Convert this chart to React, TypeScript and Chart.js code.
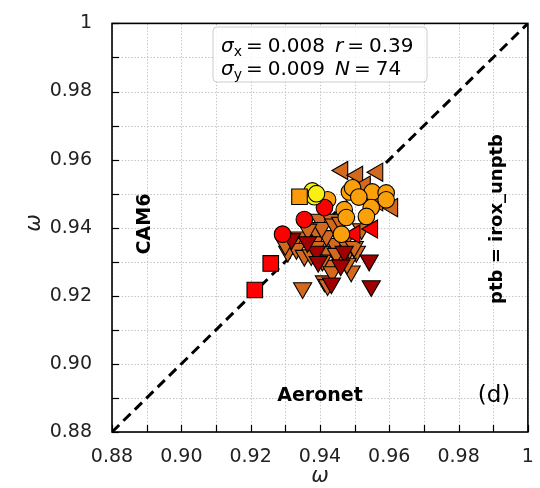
import React, { useEffect, useRef } from 'react';
import { Chart, registerables } from 'chart.js';
Chart.register(...registerables);

// ---- data (x = Aeronet, y = CAM6) ----
const redSquares: [number, number][] = [[0.9212, 0.9217], [0.9258, 0.9295]];
const orangeSquares: [number, number][] = [[0.9341, 0.9491]];
const yellowCircles: [number, number][] = [[0.9378, 0.9508], [0.9384, 0.9491], [0.939, 0.95]];
const redCircles: [number, number][] = [[0.9413, 0.9459], [0.9355, 0.9424], [0.9292, 0.9381]];
const orangeCircles: [number, number][] = [
  [0.9422, 0.9482], [0.9485, 0.9505], [0.9494, 0.9517], [0.9551, 0.9505], [0.9591, 0.9502],
  [0.9591, 0.9482], [0.947, 0.9453], [0.9476, 0.943], [0.9548, 0.9459], [0.9534, 0.9433],
  [0.9462, 0.9381], [0.9512, 0.949],
];
const redTriangles: [number, number][] = [[0.9551, 0.9396], [0.95, 0.9381]];
const leftTriangles: [number, number][] = [
  [0.9465, 0.9568], [0.9508, 0.9554], [0.9566, 0.9563], [0.9522, 0.9488], [0.9609, 0.9459],
  [0.9566, 0.9476], [0.953, 0.9525],
];
const darkRedDown: [number, number][] = [
  [0.9318, 0.9367], [0.939, 0.933], [0.947, 0.933], [0.9433, 0.9237], [0.9542, 0.9304],
  [0.9548, 0.9229], [0.9364, 0.9358], [0.946, 0.929], [0.9395, 0.93],
];
const brownDown: [number, number][] = [
  [0.9399, 0.9424], [0.9433, 0.9424], [0.9341, 0.9372], [0.939, 0.9387], [0.9384, 0.9358],
  [0.9321, 0.9353], [0.9307, 0.933], [0.9332, 0.9338], [0.9355, 0.9318], [0.9419, 0.933],
  [0.945, 0.933], [0.9427, 0.9289], [0.9485, 0.9338], [0.9505, 0.933], [0.949, 0.9272],
  [0.9478, 0.9295], [0.9456, 0.9304], [0.9407, 0.9304], [0.935, 0.9223], [0.9413, 0.9243],
  [0.9442, 0.9353], [0.947, 0.9361], [0.939, 0.9344], [0.9419, 0.9376], [0.952, 0.9396],
  [0.9499, 0.9344], [0.9447, 0.9324], [0.9422, 0.9232], [0.9405, 0.94], [0.944, 0.941],
  [0.9365, 0.9395], [0.946, 0.9415], [0.9375, 0.932], [0.9435, 0.927], [0.93, 0.935],
];
const oneToOne: [number, number][] = [[0.88, 0.88], [1.0, 1.0]];
const axisMin = 0.88;
const axisMax = 1.0;
const statsLine1 = { sym: 'σ', sub: 'x', val: '0.008', sym2: 'r', val2: '0.39' };
const statsLine2 = { sym: 'σ', sub: 'y', val: '0.009', sym2: 'N', val2: '74' };

const toPts = (a: [number, number][]) => a.map(([x, y]) => ({ x, y }));

const FONT = "'DejaVu Sans', sans-serif";

function drawStats(ctx: CanvasRenderingContext2D, x: number, y: number, s: any) {
  ctx.textBaseline = 'alphabetic';
  ctx.textAlign = 'left';
  let cx = x;
  const seg = (t: string, font: string, dy = 0, gapAfter = 0) => {
    ctx.font = font;
    ctx.fillText(t, cx, y + dy);
    cx += ctx.measureText(t).width + gapAfter;
  };
  const F = `20px ${FONT}`;
  seg(s.sym, `italic ${F}`);
  seg(s.sub, `14px ${FONT}`, 4, 4);
  seg('=', F, 0, 5);
  seg(s.val, F, 0, 10);
  seg(s.sym2, `italic ${F}`, 0, 4);
  seg('=', F, 0, 5);
  seg(s.val2, F);
}

function drawDottedGrid(chart: any) {
  const { ctx, chartArea: a, scales } = chart;
  ctx.save();
  ctx.fillStyle = '#c4c4c4';
  scales.x.ticks.forEach((t: any) => {
    const px = Math.round(scales.x.getPixelForValue(t.value));
    for (let yy = Math.ceil(a.top); yy < a.bottom; yy += 3.2) ctx.fillRect(px, yy, 1, 1.4);
  });
  scales.y.ticks.forEach((t: any) => {
    const py = Math.round(scales.y.getPixelForValue(t.value));
    for (let xx = Math.ceil(a.left); xx < a.right; xx += 3.2) ctx.fillRect(xx, py, 1.4, 1);
  });
  ctx.restore();
}

const gridPlugin = {
  id: 'dotGrid',
  beforeDatasetsDraw(chart: any) {
    drawDottedGrid(chart);
  },
};

const overlay = {
  id: 'overlay',
  afterDatasetsDraw(chart: any) {
    const { ctx, chartArea: a, scales } = chart;
    const xs = scales.x, ys = scales.y;
    ctx.save();
    // stats box
    const bx = 213, by = 27, bw = 214, bh = 55, r = 4;
    ctx.beginPath();
    ctx.moveTo(bx + r, by);
    ctx.arcTo(bx + bw, by, bx + bw, by + bh, r);
    ctx.arcTo(bx + bw, by + bh, bx, by + bh, r);
    ctx.arcTo(bx, by + bh, bx, by, r);
    ctx.arcTo(bx, by, bx + bw, by, r);
    ctx.closePath();
    ctx.fillStyle = 'rgba(255,255,255,0.85)';
    ctx.fill();
    ctx.strokeStyle = '#cccccc';
    ctx.lineWidth = 1;
    ctx.stroke();
    ctx.fillStyle = '#000';
    drawStats(ctx, 221, 52, statsLine1);
    drawStats(ctx, 221, 75, statsLine2);

    // frame
    ctx.strokeStyle = '#000';
    ctx.lineWidth = 1.6;
    ctx.strokeRect(a.left, a.top, a.right - a.left, a.bottom - a.top);
    // inward ticks
    ctx.lineWidth = 1.2;
    xs.ticks.forEach((t: any) => {
      const px = Math.round(xs.getPixelForValue(t.value)) + 0.5;
      ctx.beginPath();
      ctx.moveTo(px, a.bottom);
      ctx.lineTo(px, a.bottom - 7);
      ctx.stroke();
    });
    ys.ticks.forEach((t: any) => {
      const py = Math.round(ys.getPixelForValue(t.value)) + 0.5;
      ctx.beginPath();
      ctx.moveTo(a.left, py);
      ctx.lineTo(a.left + 7, py);
      ctx.stroke();
    });

    // annotations
    ctx.fillStyle = '#000';
    ctx.textAlign = 'center';
    ctx.textBaseline = 'middle';
    ctx.font = `bold 19px ${FONT}`;
    ctx.fillText('Aeronet', 320, 396);
    ctx.font = `23px ${FONT}`;
    ctx.fillText('(d)', 494, 396);
    ctx.save();
    ctx.translate(145, 224);
    ctx.rotate(-Math.PI / 2);
    ctx.font = `bold 19px ${FONT}`;
    ctx.fillText('CAM6', 0, 0);
    ctx.restore();
    ctx.save();
    ctx.translate(497, 219);
    ctx.rotate(-Math.PI / 2);
    ctx.font = `bold 18px ${FONT}`;
    ctx.fillText('ptb = irox_unptb', 0, 0);
    ctx.restore();

    // axis titles
    ctx.font = `italic 21px ${FONT}`;
    ctx.fillStyle = '#222';
    ctx.fillText('ω', 320, 477);
    ctx.save();
    ctx.translate(35, 223);
    ctx.rotate(-Math.PI / 2);
    ctx.fillText('ω', 0, 0);
    ctx.restore();
    ctx.restore();
  },
};

const tickLabel = (v: any) => {
  const n = Math.round(Number(v) * 100);
  if (n % 2 !== 0) return '';
  if (n === 100) return '1';
  return (n / 100).toFixed(2);
};

export default function App() {
  const ref = useRef<HTMLCanvasElement>(null);
  useEffect(() => {
    if (!ref.current) return;
    const scatter = (data: [number, number][], color: string, style: string, radius: number, rotation = 0) => ({
      data: toPts(data),
      backgroundColor: color,
      borderColor: '#000',
      borderWidth: 1.1,
      pointStyle: style,
      pointRadius: radius,
      rotation,
      order: 1,
    });
    const chart = new Chart(ref.current, {
      type: 'scatter',
      data: {
        datasets: [
          scatter(redSquares, '#ff0000', 'rect', 11),
          scatter(orangeSquares, '#fb9a0a', 'rect', 11),
          scatter(yellowCircles, '#f8f010', 'circle', 8.3),
          scatter(redCircles, '#ff0000', 'circle', 8.3),
          scatter(orangeCircles, '#fba00a', 'circle', 8.3),
          scatter(redTriangles, '#ff0000', 'triangle', 10.5, -90),
          scatter(leftTriangles, '#d2691e', 'triangle', 10.5, -90),
          scatter(darkRedDown, '#a00000', 'triangle', 10.5, 180),
          scatter(brownDown, '#d2691e', 'triangle', 10.5, 180),
          {
            data: toPts(oneToOne),
            showLine: true,
            borderColor: '#000',
            borderWidth: 3,
            borderDash: [10, 6],
            pointRadius: 0,
            order: 10,
          } as any,
        ],
      },
      options: {
        animation: false,
        responsive: false,
        devicePixelRatio: 1,
        layout: { padding: { top: 15, right: 11, left: 0, bottom: 0 } },
        plugins: { legend: { display: false }, tooltip: { enabled: false } },
        scales: {
          x: {
            type: 'linear',
            min: axisMin,
            max: axisMax,
            afterFit: (s: any) => { s.height = 56; },
            ticks: {
              stepSize: 0.01,
              autoSkip: false,
              maxRotation: 0,
              padding: 6,
              color: '#222',
              font: { family: FONT, size: 19 },
              callback: tickLabel,
            },
            grid: { display: false },
            border: { display: false },
          },
          y: {
            type: 'linear',
            min: axisMin,
            max: axisMax,
            afterFit: (s: any) => { s.width = 112; },
            ticks: {
              stepSize: 0.01,
              autoSkip: false,
              padding: 12,
              color: '#222',
              font: { family: FONT, size: 19 },
              callback: tickLabel,
            },
            grid: { display: false },
            border: { display: false },
          },
        },
      } as any,
      plugins: [gridPlugin, overlay],
    });
    return () => chart.destroy();
  }, []);
  return (
    <div style={{ position: 'absolute', left: 0, top: 0, width: 540, height: 488, background: '#fff' }}>
      <canvas ref={ref} width={540} height={488} style={{ display: 'block' }} />
    </div>
  );
}
